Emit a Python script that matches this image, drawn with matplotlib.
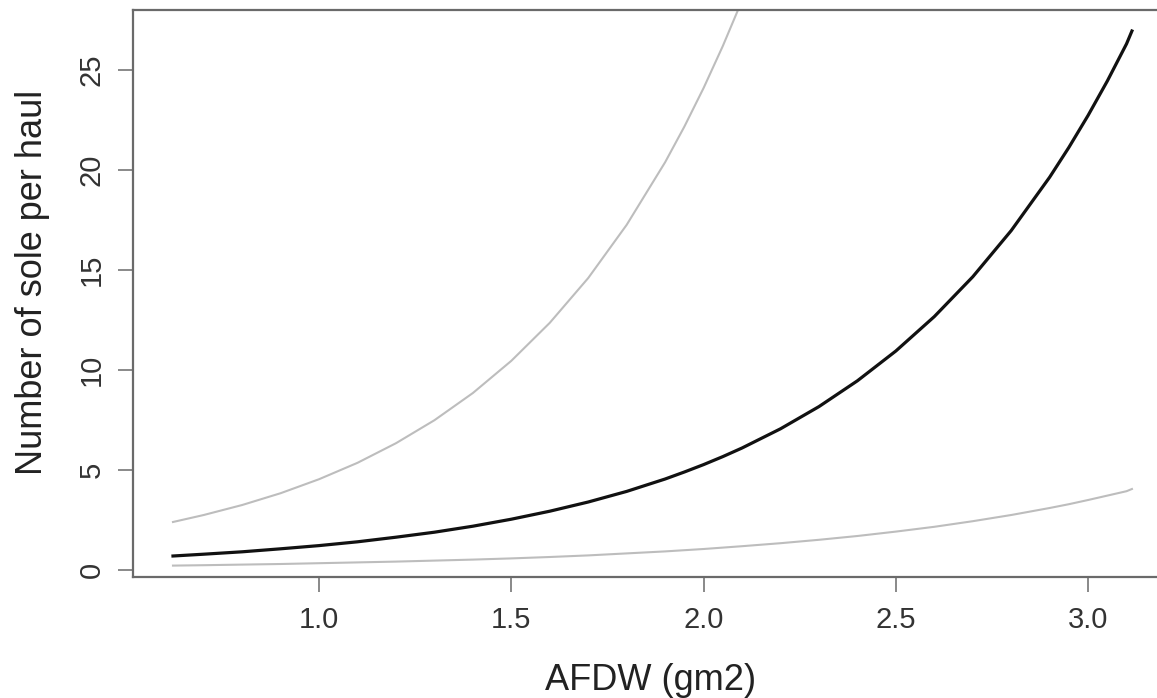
import numpy as np
import matplotlib
matplotlib.use("Agg")
import matplotlib.pyplot as plt

# valores
afdw = [0.62, 0.7, 0.8, 0.9, 1.0, 1.1, 1.2, 1.3, 1.4, 1.5, 1.6, 1.7, 1.8,
        1.9, 1.95, 2.0, 2.05, 2.1, 2.2, 2.3, 2.4, 2.5, 2.6, 2.7, 2.8, 2.9,
        2.95, 3.0, 3.05, 3.1, 3.114]

fit = [0.70, 0.79, 0.91, 1.06, 1.22, 1.41, 1.64, 1.89, 2.19, 2.54, 2.94,
       3.40, 3.93, 4.55, 4.90, 5.27, 5.67, 6.10, 7.06, 8.17, 9.46, 10.95,
       12.67, 14.66, 16.97, 19.64, 21.13, 22.73, 24.45, 26.31, 26.95]

upper = [2.40, 2.75, 3.25, 3.84, 4.54, 5.36, 6.34, 7.49, 8.85, 10.46, 12.36,
         14.60, 17.26, 20.39, 22.17, 24.10, 26.20, 28.48, 33.65, 39.8, 47.0,
         55.5, 65.6, 77.5, 91.6, 108.2, 117.6, 127.9, 139.0, 151.1, 154.7]

lower = [0.22, 0.24, 0.27, 0.30, 0.34, 0.38, 0.42, 0.47, 0.52, 0.58, 0.65,
         0.73, 0.83, 0.93, 0.99, 1.05, 1.12, 1.19, 1.34, 1.51, 1.70, 1.92,
         2.16, 2.44, 2.75, 3.10, 3.29, 3.50, 3.72, 3.94, 4.05]

x_ticks = [1.0, 1.5, 2.0, 2.5, 3.0]
y_ticks = [0, 5, 10, 15, 20, 25]

plt.rcParams["font.family"] = ["Liberation Sans", "DejaVu Sans"]

W, H = 1157, 698
fig = plt.figure(figsize=(W / 100, H / 100), dpi=100)
# caja del gráfico (el borde derecho queda fuera de la imagen)
left, right, top, bottom = 133, 1170, 10, 577
ax = fig.add_axes([left / W, 1 - bottom / H, (right - left) / W, (bottom - top) / H])

ax.plot(afdw, upper, color="#bdbdbd", lw=1.5)
ax.plot(afdw, lower, color="#bdbdbd", lw=1.5)
ax.plot(afdw, fit, color="#111111", lw=2.3)

ax.set_xlim(0.516, 3.213)
ax.set_ylim(-0.35, 28.0)

ax.set_xticks(x_ticks)
ax.set_xticklabels([f"{t:.1f}" for t in x_ticks])
ax.set_yticks(y_ticks)
ax.set_yticklabels([str(t) for t in y_ticks], rotation=90, va="center")

for s in ax.spines.values():
    s.set_color("#6a6a6a")
    s.set_linewidth(1.6)

ax.tick_params(axis="both", length=11, width=1.1, color="#6a6a6a",
               labelsize=21, labelcolor="#333333")
ax.tick_params(axis="x", pad=9.8)
ax.tick_params(axis="y", pad=8.6)

fig.text(651 / W, 1 - 690 / H, "AFDW (gm2)", fontsize=26, color="#222222",
         ha="center", va="baseline")
fig.text(42 / W, 1 - 282 / H, "Number of sole per haul", fontsize=26,
         color="#222222", rotation=90, rotation_mode="anchor",
         ha="center", va="baseline")

fig.savefig("out.png", dpi=100)
